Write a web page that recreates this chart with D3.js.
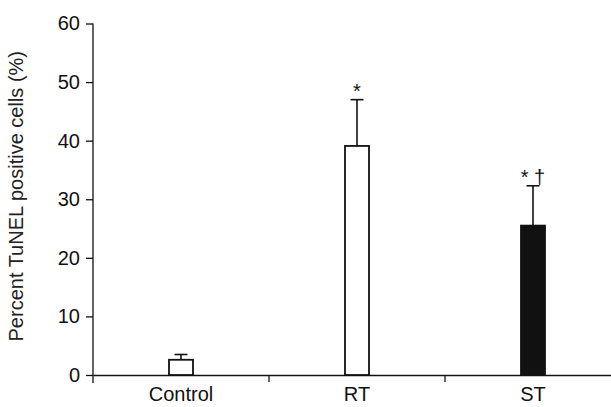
<html>
  <head>
    <meta charset="utf-8" />
    <title>TUNEL positive cells</title>
    <script src="https://d3js.org/d3.v7.min.js"></script>
    <style>
      body {
        margin: 0;
        background: #fff;
      }
      text {
        font-family: "Liberation Sans", Arial, sans-serif;
        fill: #111;
      }
      .axis path, .axis line {
        stroke: #111;
        stroke-width: 1.3;
      }
    </style>
  </head>
  <body>
    <svg id="chart"></svg>
    <script>
      var categories = ["Control", "RT", "ST"];
      var means = [2.6, 39.1, 25.5];
      var errors = [0.9, 7.9, 6.8];
      var marks = ["", "*", "* \u2020"];
      var fills = ["#fff", "#fff", "#111"];
      var yTicks = [0, 10, 20, 30, 40, 50, 60];

      var width = 611;
      var height = 407;
      var margin = { top: 23.5, right: -10, bottom: 32, left: 93 };

      var svg = d3.select("#chart")
        .attr("width", width)
        .attr("height", height);

      var x = d3.scaleBand()
        .domain(categories)
        .range([margin.left, width - margin.right]);

      var y = d3.scaleLinear()
        .domain([0, 60])
        .range([height - margin.bottom, margin.top]);

      var barWidth = 24;
      var capWidth = 13;

      // y axis
      var yAxis = d3.axisLeft(y)
        .tickValues(yTicks)
        .tickSize(7)
        .tickSizeOuter(0)
        .tickPadding(6);

      var gy = svg.append("g")
        .attr("class", "axis")
        .attr("transform", "translate(" + margin.left + ",0)")
        .call(yAxis);
      gy.select(".domain").remove();
      gy.append("line")
        .attr("x1", 0).attr("x2", 0)
        .attr("y1", y(60)).attr("y2", y(0) + 8);
      gy.selectAll("text")
        .style("font-size", "20px")
        .style("fill", "#111");

      // x axis
      var xAxis = d3.axisBottom(x)
        .tickSize(0)
        .tickSizeOuter(0)
        .tickPadding(12);

      var gx = svg.append("g")
        .attr("class", "axis")
        .attr("transform", "translate(0," + y(0) + ")")
        .call(xAxis);
      gx.selectAll("text")
        .style("font-size", "20px")
        .style("fill", "#111");

      // small ticks between the groups
      gx.selectAll(".sep")
        .data(categories.slice(1))
        .enter().append("line")
        .attr("class", "sep")
        .attr("x1", function(d) { return x(d); })
        .attr("x2", function(d) { return x(d); })
        .attr("y1", 0)
        .attr("y2", 7);

      var data = categories.map(function(c, i) {
        return { cat: c, mean: means[i], err: errors[i], mark: marks[i], fill: fills[i] };
      });

      function cx(d) {
        return x(d.cat) + x.bandwidth() / 2;
      }

      // error bars (upper only)
      svg.selectAll(".err")
        .data(data)
        .enter().append("line")
        .attr("class", "err")
        .attr("x1", cx)
        .attr("x2", cx)
        .attr("y1", function(d) { return y(d.mean); })
        .attr("y2", function(d) { return y(d.mean + d.err); })
        .attr("stroke", "#111")
        .attr("stroke-width", 1.6);

      svg.selectAll(".cap")
        .data(data)
        .enter().append("line")
        .attr("class", "cap")
        .attr("x1", function(d) { return cx(d) - capWidth / 2; })
        .attr("x2", function(d) { return cx(d) + capWidth / 2; })
        .attr("y1", function(d) { return y(d.mean + d.err); })
        .attr("y2", function(d) { return y(d.mean + d.err); })
        .attr("stroke", "#111")
        .attr("stroke-width", 1.6);

      // bars
      svg.selectAll(".bar")
        .data(data)
        .enter().append("rect")
        .attr("class", "bar")
        .attr("x", function(d) { return cx(d) - barWidth / 2; })
        .attr("width", barWidth)
        .attr("y", function(d) { return y(d.mean); })
        .attr("height", function(d) { return y(0) - y(d.mean); })
        .attr("fill", function(d) { return d.fill; })
        .attr("stroke", "#111")
        .attr("stroke-width", 1.8);

      // significance marks
      svg.selectAll(".mark")
        .data(data)
        .enter().append("text")
        .attr("class", "mark")
        .attr("x", cx)
        .attr("y", function(d) { return y(d.mean + d.err) - 2; })
        .attr("text-anchor", "middle")
        .style("font-size", "20px")
        .text(function(d) { return d.mark; });

      // y axis title
      svg.append("text")
        .attr("transform", "translate(23," + (y(30) - 3) + ") rotate(-90)")
        .attr("text-anchor", "middle")
        .style("font-size", "20px")
        .style("fill", "#222")
        .text("Percent TuNEL positive cells (%)");
    </script>
  </body>
</html>
